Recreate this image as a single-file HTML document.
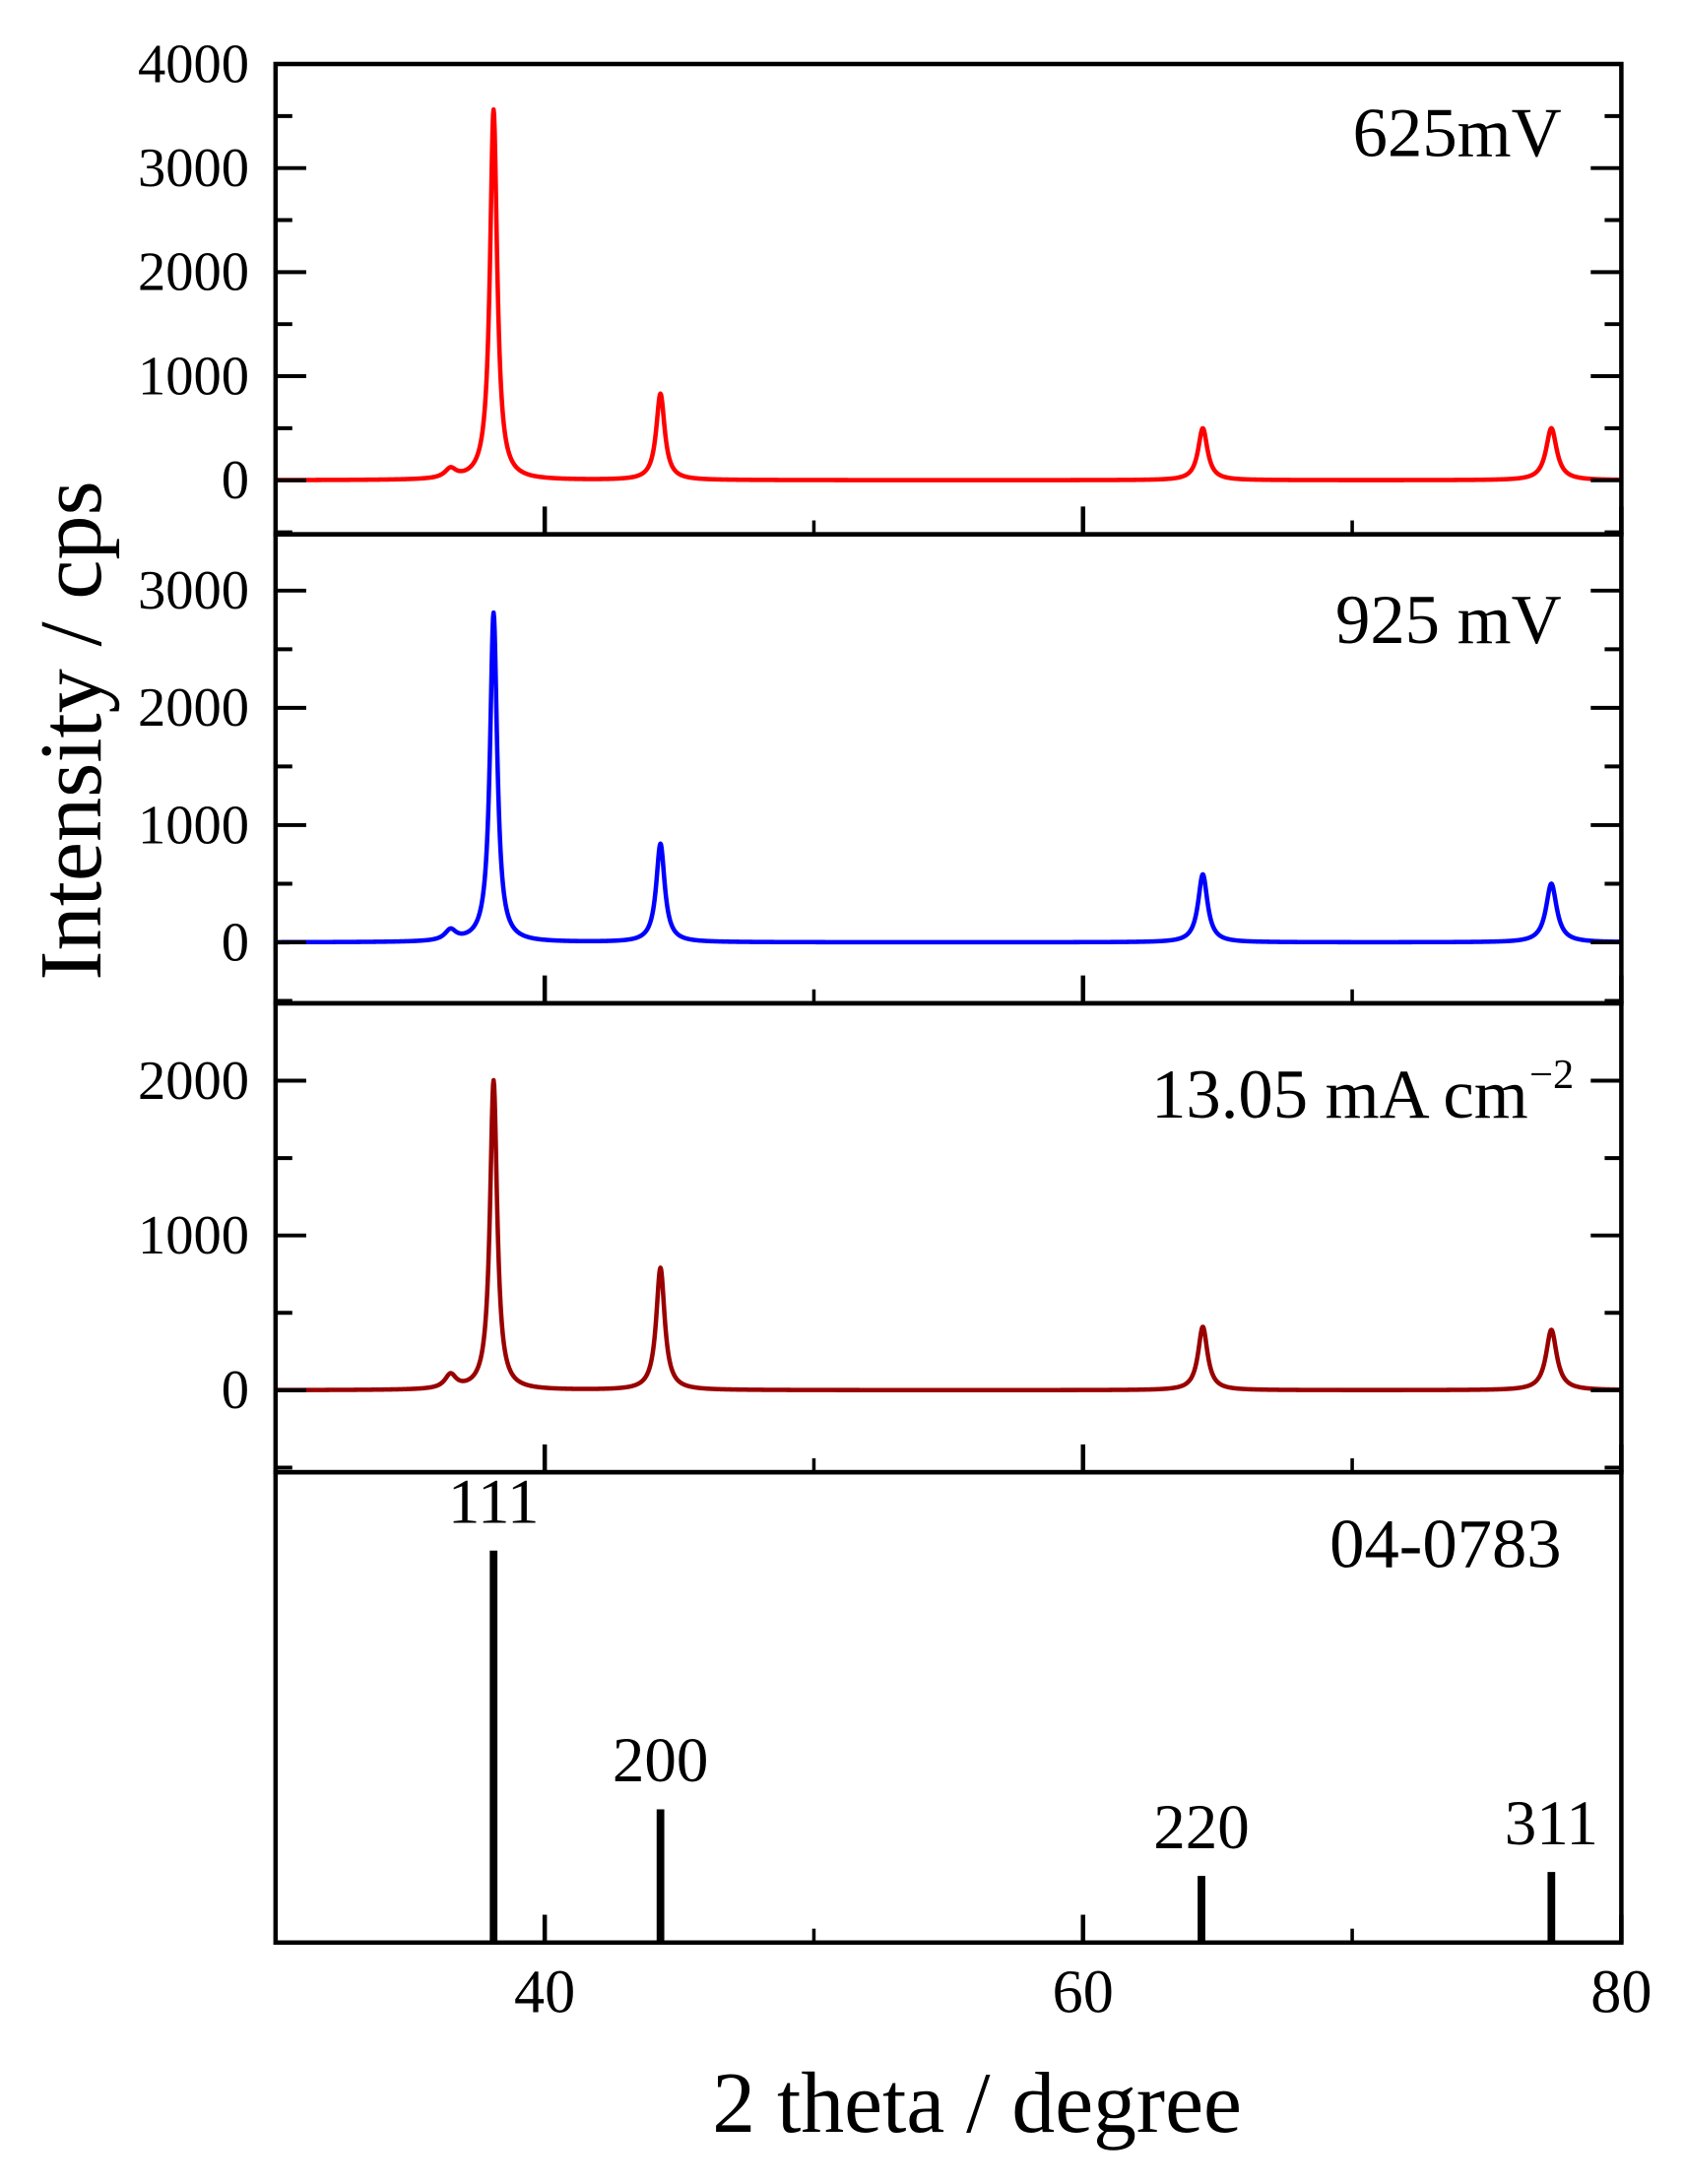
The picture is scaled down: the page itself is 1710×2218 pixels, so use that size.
<!DOCTYPE html>
<html><head><meta charset="utf-8"><style>
html,body{margin:0;padding:0;background:#fff}
svg{display:block}
text{font-family:"Liberation Serif",serif;fill:#000}
</style></head><body>
<svg id="chart" width="1710" height="2218" viewBox="0 0 1210 1569.5" xmlns="http://www.w3.org/2000/svg">
<g id="g"></g>
</svg>
<script>
const xTicks = [40, 60, 80];
const xMinor = [50, 70];
const panelNames = ["625mV", "925 mV", "13.05 mA cm", "04-0783"];
const panelColors = ["#ff0000", "#0000ff", "#990000", "#000000"];
const yMins = [-520, -520, -530, 0];
const yMaxs = [4000, 3480, 2500, 120];
const yTicks1 = [0, 1000, 2000, 3000, 4000];
const yTicks2 = [0, 1000, 2000, 3000];
const yTicks3 = [0, 1000, 2000];
const peakPos = [38.1, 44.3, 64.45, 77.4];
const peaks625 = [3560, 830, 500, 500];
const peaks925 = [2810, 840, 580, 500];
const peaks1305 = [2000, 790, 410, 390];
const peakWidths = [0.32, 0.38, 0.42, 0.48];
const smallBump = [36.5, 90];
const refPos = [38.1, 44.3, 64.4, 77.4];
const refInt = [100, 34, 17, 18];
const refLabels = ["111", "200", "220", "311"];

const NS = "http://www.w3.org/2000/svg";
const g = document.getElementById('g');
const L = 198, R = 1165, tops = [46, 384, 721, 1058], bots = [384, 721, 1058, 1396];
const xs = v => L + (v - 30) / 50 * (R - L);
function ys(i, v) { return bots[i] - (v - yMins[i]) / (yMaxs[i] - yMins[i]) * (bots[i] - tops[i]); }
function mk(tag, attrs, parent) {
  const e = document.createElementNS(NS, tag);
  for (const k in attrs) e.setAttribute(k, attrs[k]);
  (parent || g).appendChild(e); return e;
}
const yTickSets = [yTicks1, yTicks2, yTicks3, []];
const series = [peaks625, peaks925, peaks1305];

for (let i = 0; i < 4; i++) {
  if (i < 3) {
    let d = "";
    const N = 2500;
    for (let n = 0; n <= N; n++) {
      const x = 30 + 50 * n / N;
      let y = 0;
      for (let k = 0; k < peakPos.length; k++) {
        const w = peakWidths[k] / 2;
        y += series[i][k] * w * w / ((x - peakPos[k]) ** 2 + w * w);
      }
      const bw = 0.25;
      y += smallBump[1] * bw * bw / ((x - smallBump[0]) ** 2 + bw * bw);
      d += (n ? "L" : "M") + xs(x).toFixed(2) + "," + ys(i, y).toFixed(2);
    }
    const p = mk('path', { d: d, fill: 'none', stroke: panelColors[i], 'stroke-width': 3.2, 'stroke-linejoin': 'round' });
    
    
  } else {
    for (let k = 0; k < refPos.length; k++) {
      const ln = mk('line', { x1: xs(refPos[k]), x2: xs(refPos[k]), y1: ys(3, 0), y2: ys(3, refInt[k]), stroke: '#000', 'stroke-width': 5.5 });
      
      
      const t = mk('text', { x: xs(refPos[k]), y: ys(3, refInt[k]) - 20, 'text-anchor': 'middle', 'font-size': 46 });
      t.textContent = refLabels[k];
      
      
    }
  }
  const fr = mk('rect', { x: L, y: tops[i], width: R - L, height: bots[i] - tops[i], fill: 'none', stroke: '#000', 'stroke-width': 3.2 });
  
  
  for (const v of xTicks) mk('line', { x1: xs(v), x2: xs(v), y1: bots[i], y2: bots[i] - 20, stroke: '#000', 'stroke-width': 3.2 });
  for (const v of xMinor) mk('line', { x1: xs(v), x2: xs(v), y1: bots[i], y2: bots[i] - 10, stroke: '#000', 'stroke-width': 2.5 });
  const yt = yTickSets[i];
  for (const v of yt) {
    mk('line', { x1: L, x2: L + 22, y1: ys(i, v), y2: ys(i, v), stroke: '#000', 'stroke-width': 2.8 });
    mk('line', { x1: R, x2: R - 22, y1: ys(i, v), y2: ys(i, v), stroke: '#000', 'stroke-width': 2.8 });
    const t = mk('text', { x: 179, y: ys(i, v) + 13, 'text-anchor': 'end', 'font-size': 40 });
    t.textContent = v;
    
    
  }
  if (yt.length) {
    for (let v = -500; v < yMaxs[i]; v += 1000) {
      if (v < yMins[i]) continue;
      mk('line', { x1: L, x2: L + 12, y1: ys(i, v), y2: ys(i, v), stroke: '#000', 'stroke-width': 2.8 });
      mk('line', { x1: R, x2: R - 12, y1: ys(i, v), y2: ys(i, v), stroke: '#000', 'stroke-width': 2.8 });
    }
  }
}
const labY = [112, 462, 803, 1126];
for (let i = 0; i < 4; i++) {
  const t = mk('text', { x: i === 2 ? 1098 : 1122, y: labY[i], 'text-anchor': 'end', 'font-size': 50 });
  t.textContent = panelNames[i];
  
  
}
const sup = mk('text', { x: 1099, y: 782, 'font-size': 30 });
sup.textContent = "\u22122";


for (const v of xTicks) {
  const t = mk('text', { x: xs(v), y: 1446, 'text-anchor': 'middle', 'font-size': 44 });
  t.textContent = v;
  
  
}
const xt = mk('text', { x: 702, y: 1532, 'text-anchor': 'middle', 'font-size': 62 });
xt.textContent = "2 theta / degree";


const ytl = mk('text', { x: 0, y: 0, 'text-anchor': 'middle', 'font-size': 64, transform: 'translate(72,525) rotate(-90)' });
ytl.textContent = "Intensity / cps";


</script>
</body></html>
